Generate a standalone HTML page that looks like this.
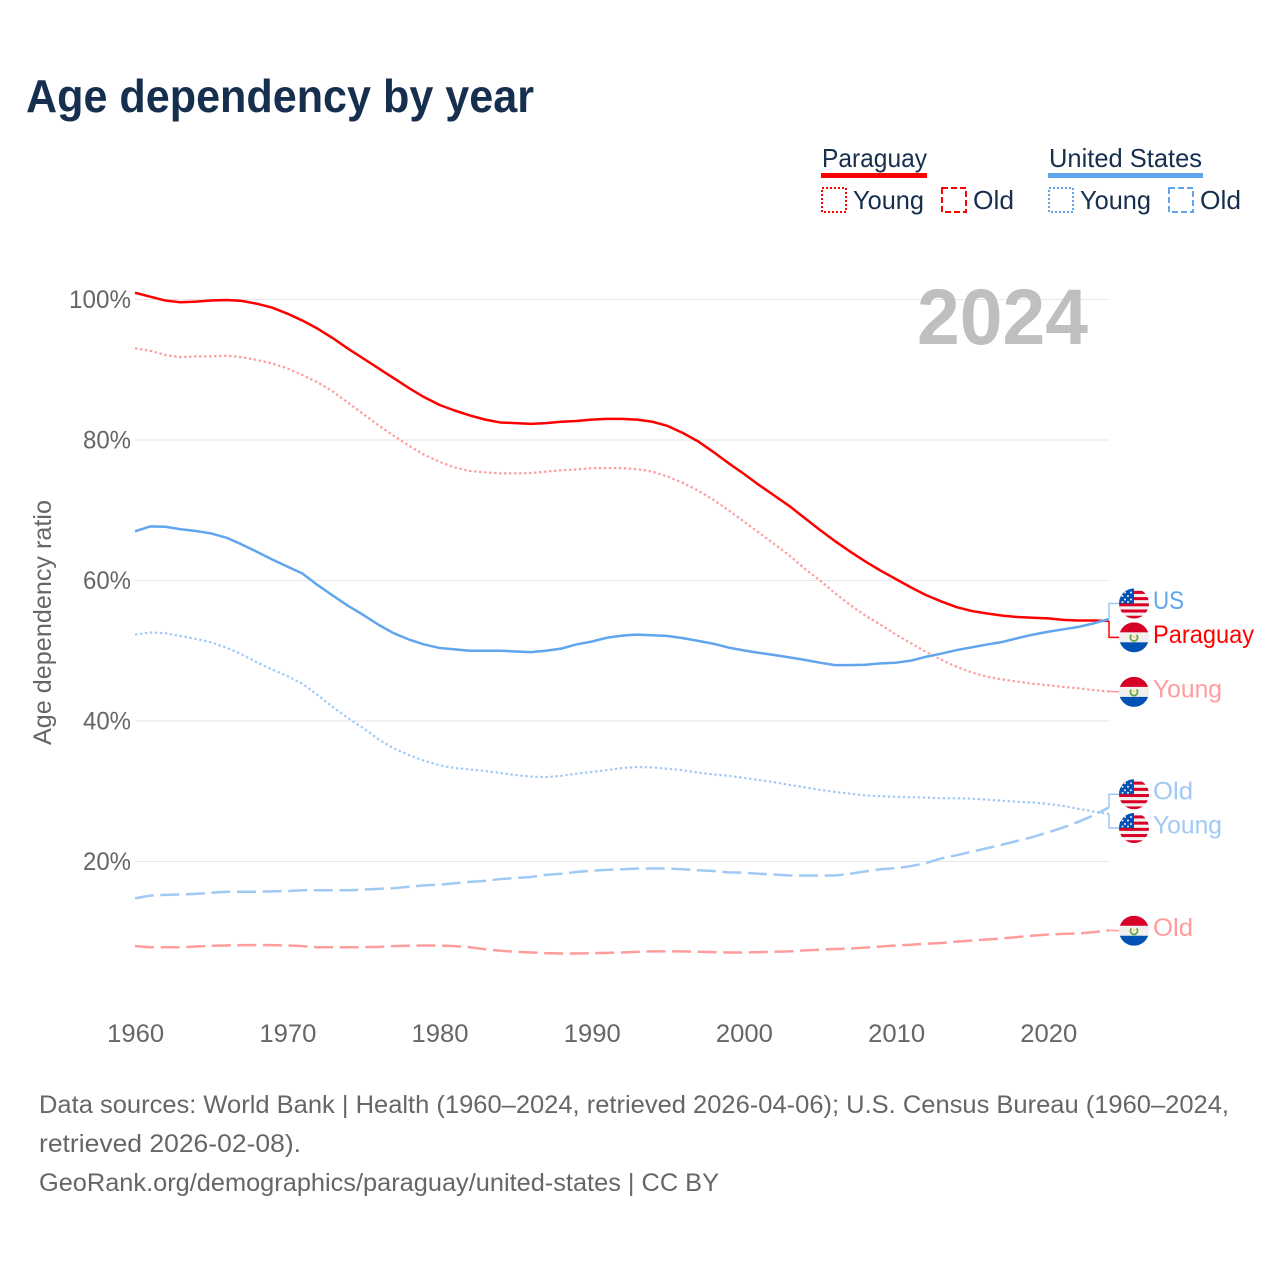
<!DOCTYPE html>
<html lang="en">
<head>
<meta charset="utf-8">
<title>Age dependency by year</title>
<style>
html,body{margin:0;padding:0;background:#fff;width:1280px;height:1280px;overflow:hidden}
svg{display:block}
text{font-family:"Liberation Sans",sans-serif}
</style>
</head>
<body>
<svg id="chart" xmlns="http://www.w3.org/2000/svg" width="1280" height="1280" viewBox="0 0 1280 1280">
  <defs>
    <clipPath id="flag-clip"><circle cx="0" cy="0" r="15"/></clipPath>
  </defs>
  <rect width="1280" height="1280" fill="#fff"/>
  <text x="26" y="112" font-size="46" font-weight="700" fill="#172f4f" textLength="508" lengthAdjust="spacingAndGlyphs">Age dependency by year</text>

  <g>
    <g>
      <text x="822" y="167" font-size="26" fill="#172f4f" textLength="105" lengthAdjust="spacingAndGlyphs">Paraguay</text>
      <rect x="821" y="173" width="106" height="5" fill="#ff0000"/>
      <rect x="822" y="188" width="24" height="24" fill="none" stroke="#ff0000" stroke-width="2" stroke-dasharray="2 2"/>
      <text x="853" y="209" font-size="26" fill="#172f4f" textLength="71" lengthAdjust="spacingAndGlyphs">Young</text>
      <rect x="942" y="188" width="24" height="24" fill="none" stroke="#ff0000" stroke-width="2" stroke-dasharray="6 3"/>
      <text x="973" y="209" font-size="26" fill="#172f4f" textLength="41" lengthAdjust="spacingAndGlyphs">Old</text>
    </g>
    <g>
      <text x="1049" y="167" font-size="26" fill="#172f4f" textLength="153" lengthAdjust="spacingAndGlyphs">United States</text>
      <rect x="1048" y="173" width="155" height="5" fill="#60a5ee"/>
      <rect x="1049" y="188" width="24" height="24" fill="none" stroke="#60a5ee" stroke-width="2" stroke-dasharray="2 2"/>
      <text x="1080" y="209" font-size="26" fill="#172f4f" textLength="71" lengthAdjust="spacingAndGlyphs">Young</text>
      <rect x="1169" y="188" width="24" height="24" fill="none" stroke="#60a5ee" stroke-width="2" stroke-dasharray="6 3"/>
      <text x="1200" y="209" font-size="26" fill="#172f4f" textLength="41" lengthAdjust="spacingAndGlyphs">Old</text>
    </g>
  </g>

  <g id="grid"></g>
  <g id="y-ticks"></g>
  <g id="x-ticks"></g>
  <text transform="translate(51,622.5) rotate(-90)" text-anchor="middle" font-size="25" fill="#666666" textLength="245" lengthAdjust="spacingAndGlyphs">Age dependency ratio</text>
  <text x="917" y="344" font-size="79" font-weight="700" fill="#bfbfbf" textLength="171" lengthAdjust="spacingAndGlyphs">2024</text>
  <g id="series"></g>
  <g id="ends"></g>

  <g font-size="25" fill="#666666">
    <text x="39" y="1113" textLength="1190" lengthAdjust="spacingAndGlyphs">Data sources: World Bank | Health (1960–2024, retrieved 2026-04-06); U.S. Census Bureau (1960–2024,</text>
    <text x="39" y="1152" textLength="262" lengthAdjust="spacingAndGlyphs">retrieved 2026-02-08).</text>
    <text x="39" y="1191" textLength="680" lengthAdjust="spacingAndGlyphs">GeoRank.org/demographics/paraguay/united-states | CC BY</text>
  </g>
</svg>

<script>
const years = [1960,1961,1962,1963,1964,1965,1966,1967,1968,1969,1970,1971,1972,1973,1974,1975,1976,1977,1978,1979,1980,1981,1982,1983,1984,1985,1986,1987,1988,1989,1990,1991,1992,1993,1994,1995,1996,1997,1998,1999,2000,2001,2002,2003,2004,2005,2006,2007,2008,2009,2010,2011,2012,2013,2014,2015,2016,2017,2018,2019,2020,2021,2022,2023,2024];
const paraguayTotal = [100.96,100.4,99.85,99.6,99.7,99.85,99.93,99.8,99.4,98.85,98.0,97.0,95.85,94.5,93.0,91.6,90.2,88.8,87.4,86.1,85.0,84.2,83.5,82.9,82.5,82.4,82.3,82.4,82.6,82.7,82.9,83.0,83.0,82.9,82.6,82.0,81.0,79.8,78.3,76.7,75.2,73.6,72.1,70.6,68.9,67.2,65.6,64.1,62.7,61.4,60.2,59.0,57.9,57.0,56.2,55.65,55.3,55.0,54.8,54.7,54.6,54.4,54.3,54.3,54.25];
const paraguayYoung = [93.05,92.7,92.1,91.8,91.9,91.9,92.0,91.8,91.4,90.9,90.2,89.25,88.2,86.9,85.3,83.7,82.1,80.6,79.2,77.9,76.9,76.1,75.6,75.4,75.25,75.25,75.3,75.5,75.7,75.8,76.0,76.0,76.0,75.85,75.5,74.8,73.9,72.8,71.5,70.0,68.4,66.8,65.2,63.55,61.7,60.0,58.2,56.5,55.0,53.7,52.3,51.05,49.8,48.7,47.7,46.9,46.3,45.9,45.6,45.3,45.1,44.85,44.65,44.4,44.2];
const paraguayOld = [7.95,7.8,7.8,7.8,7.9,8.0,8.05,8.1,8.1,8.1,8.05,7.95,7.8,7.8,7.8,7.8,7.85,7.95,8.0,8.05,8.05,7.95,7.8,7.5,7.3,7.15,7.05,6.95,6.9,6.9,6.95,7.0,7.05,7.15,7.2,7.2,7.2,7.15,7.1,7.05,7.05,7.1,7.15,7.2,7.35,7.45,7.55,7.6,7.75,7.9,8.05,8.15,8.3,8.4,8.6,8.75,8.9,9.05,9.25,9.45,9.6,9.7,9.75,9.95,10.2];
const usTotal = [67.0,67.7,67.65,67.3,67.05,66.7,66.1,65.15,64.1,63.0,62.0,61.0,59.35,57.85,56.4,55.1,53.7,52.5,51.6,50.9,50.4,50.2,50.0,50.0,50.0,49.9,49.8,50.0,50.3,50.9,51.3,51.85,52.15,52.3,52.2,52.1,51.8,51.4,51.0,50.45,50.05,49.7,49.4,49.05,48.7,48.3,47.95,47.95,48.0,48.2,48.3,48.6,49.15,49.6,50.1,50.5,50.9,51.25,51.8,52.3,52.7,53.05,53.4,53.9,54.5];
const usYoung = [52.3,52.6,52.5,52.1,51.7,51.2,50.45,49.5,48.35,47.35,46.4,45.3,43.7,42.0,40.4,39.0,37.4,36.1,35.15,34.35,33.7,33.3,33.1,32.9,32.6,32.3,32.1,32.0,32.2,32.5,32.75,33.0,33.3,33.45,33.4,33.2,33.0,32.65,32.4,32.2,31.9,31.6,31.3,30.9,30.55,30.2,29.9,29.65,29.4,29.3,29.2,29.15,29.1,29.0,29.0,28.95,28.8,28.65,28.5,28.4,28.2,27.9,27.5,27.1,26.75];
const usOld = [14.75,15.15,15.25,15.3,15.4,15.55,15.7,15.7,15.7,15.75,15.8,15.9,15.9,15.9,15.9,16.0,16.1,16.2,16.4,16.6,16.7,16.9,17.1,17.25,17.5,17.65,17.8,18.1,18.25,18.5,18.7,18.8,18.9,19.0,19.0,19.0,18.9,18.75,18.65,18.45,18.4,18.25,18.15,18.0,18.0,18.0,18.0,18.25,18.6,18.9,19.05,19.35,19.8,20.45,20.9,21.4,21.9,22.4,22.95,23.5,24.15,24.85,25.65,26.6,27.7];
const yTickValues = [20,40,60,80,100];
const xTickValues = [1960,1970,1980,1990,2000,2010,2020];

const NS = 'http://www.w3.org/2000/svg';
const X0 = 135, X1 = 1109, Y0 = 1002, PX_PER_PCT = 7.025;
const xScale = yr => X0 + (yr - years[0]) * (X1 - X0) / (years[years.length - 1] - years[0]);
const yScale = v => Y0 - v * PX_PER_PCT;

function make(tag, attrs, parent) {
  const el = document.createElementNS(NS, tag);
  for (const k in attrs) el.setAttribute(k, attrs[k]);
  parent.appendChild(el);
  return el;
}

const gridG = document.getElementById('grid');
const yTickG = document.getElementById('y-ticks');
const xTickG = document.getElementById('x-ticks');
yTickValues.forEach(v => {
  const line = make('line', {x1: X0, x2: X1, y1: yScale(v), y2: yScale(v), stroke: '#e6e6e6', 'stroke-width': 1}, gridG);
  
  
  const t = make('text', {x: 131, y: yScale(v) + 8.5, 'text-anchor': 'end', 'font-size': 25, fill: '#666666', textLength: v === 100 ? 62 : 48, lengthAdjust: 'spacingAndGlyphs'}, yTickG);
  
  
  t.textContent = v + '%';
});
xTickValues.forEach(yr => {
  const t = make('text', {x: xScale(yr) + 0.7, y: 1042, 'text-anchor': 'middle', 'font-size': 25, fill: '#666666', textLength: 57, lengthAdjust: 'spacingAndGlyphs'}, xTickG);
  
  
  t.textContent = yr;
});

const seriesList = [
  {key: 'paraguay-young', values: paraguayYoung, color: '#ff9c9c', width: 2.2, dash: '2.4 2.6', label: 'Young', flag: 'py', textColor: '#ff9c9c'},
  {key: 'paraguay-old', values: paraguayOld, color: '#ff9c9c', width: 2.5, dash: '19 6.6', label: 'Old', flag: 'py', textColor: '#ff9c9c'},
  {key: 'paraguay-total', values: paraguayTotal, color: '#ff0000', width: 2.5, dash: '', label: 'Paraguay', flag: 'py', textColor: '#ff0000'},
  {key: 'us-young', values: usYoung, color: '#a0c9f4', width: 2.2, dash: '2.4 2.6', label: 'Young', flag: 'us', textColor: '#a0c9f4'},
  {key: 'us-old', values: usOld, color: '#a0c9f4', width: 2.5, dash: '19 6.6', label: 'Old', flag: 'us', textColor: '#a0c9f4'},
  {key: 'us-total', values: usTotal, color: '#60a5ee', width: 2.5, dash: '', label: 'US', flag: 'us', textColor: '#60a5ee'}
];
const labelWidths = {Young: 69, Old: 40, US: 31, Paraguay: 101};

const seriesG = document.getElementById('series');
seriesList.forEach(s => {
  const d = s.values.map((v, i) => (i ? 'L' : 'M') + xScale(years[i]).toFixed(2) + ' ' + yScale(v).toFixed(2)).join(' ');
  const p = make('path', {d: d, fill: 'none', stroke: s.color, 'stroke-width': s.width, 'stroke-linejoin': 'round'}, seriesG);
  if (s.dash) p.setAttribute('stroke-dasharray', s.dash);
  
  
});

/* Dodge end labels: anything closer than one row gets grouped and spread around its centre. */
const ROW = 33.8;
const ends = seriesList.map(s => ({s: s, y: yScale(s.values[s.values.length - 1])})).sort((a, b) => a.y - b.y);
const groups = [];
ends.forEach(e => {
  const g = groups[groups.length - 1];
  if (g && e.y - g[g.length - 1].y < ROW) g.push(e); else groups.push([e]);
});
groups.forEach(g => {
  const mean = g.reduce((a, e) => a + e.y, 0) / g.length;
  g.forEach((e, i) => { e.fy = mean + 0.4 + (i - (g.length - 1) / 2) * ROW; });
});

function drawFlag(kind, cy, parent) {
  const g = make('g', {transform: 'translate(1134,' + cy + ')', 'clip-path': 'url(#flag-clip)'}, parent);
  
  
  make('rect', {x: -15, y: -15, width: 30, height: 30, fill: '#f0f0f0'}, g);
  if (kind === 'us') {
    [-12.6, -6.4, -0.2, 6, 12.2].forEach(sy => make('rect', {x: -15, y: sy, width: 30, height: 3, fill: '#d80027'}, g));
    make('rect', {x: -15, y: -15, width: 15, height: 15, fill: '#0052b4'}, g);
    [[-9,-11],[-3,-11],[-6,-7.5],[-11.5,-7.5],[-9,-4],[-3,-4],[-6,-1.5],[-11.5,-1.5]].forEach(c => make('circle', {cx: c[0], cy: c[1], r: 1, fill: '#f0f0f0'}, g));
  } else {
    make('rect', {x: -15, y: -15, width: 30, height: 10, fill: '#d80027'}, g);
    make('rect', {x: -15, y: 5, width: 30, height: 10, fill: '#0052b4'}, g);
    make('path', {d: 'M-2.6 -2.4 A3.6 3.6 0 1 0 2.6 -2.4', fill: 'none', stroke: '#6da544', 'stroke-width': 1.8}, g);
    make('circle', {cx: 0, cy: -0.5, r: 1.1, fill: '#ffda44'}, g);
  }
}

const endsG = document.getElementById('ends');
ends.forEach(e => {
  const s = e.s;
  const elbow = Math.abs(e.fy - e.y) > 2;
  const d = elbow ? 'M1109 ' + e.y + ' V' + e.fy + ' H1120' : 'M1109 ' + e.y + ' L1120 ' + e.fy;
  const connColor = s.key === 'us-total' ? '#a0c9f4' : s.color;
  const c = make('path', {d: d, fill: 'none', stroke: connColor, 'stroke-width': 1.5}, endsG);
  
  
  drawFlag(s.flag, e.fy, endsG);
  const t = make('text', {x: 1153, y: e.fy + 5.5, 'font-size': 25, fill: s.textColor, textLength: labelWidths[s.label], lengthAdjust: 'spacingAndGlyphs'}, endsG);
  
  
  t.textContent = s.label;
});
</script>
</body>
</html>
